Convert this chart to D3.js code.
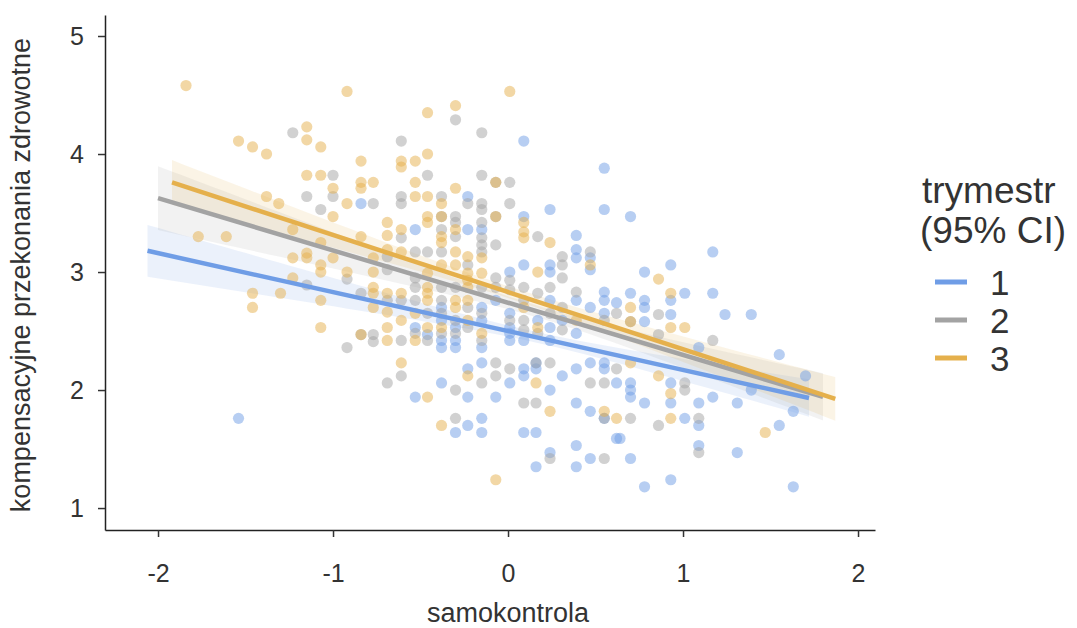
<!DOCTYPE html>
<html>
<head>
<meta charset="utf-8">
<script src="https://cdn.jsdelivr.net/npm/d3@7"></script>
<style>
  body { margin: 0; background: #fff; }
  text { font-family: "Liberation Sans", Arial, Helvetica, sans-serif; fill: #333; }
</style>
</head>
<body>
<svg id="chart" width="1077" height="628"></svg>
<script>
// DATA (samokontrola, kompensacyjne przekonania zdrowotne) per trymestr

const trymestry = ["1", "2", "3"];

const trymestr1 = [
  [-0.84,3.58],[0.09,4.11],[0.55,3.88],[-0.23,3.64],[0.24,3.53],[0.55,3.53],[0.09,3.47],
  [0.70,3.47],[1.17,3.17],[0.93,3.06],[0.78,3.00],[0.93,2.76],[1.01,2.82],[1.17,2.82],[0.70,2.82],
  [0.78,2.76],[0.78,2.70],[0.93,2.64],[1.24,2.64],[1.39,2.64],[0.78,2.58],[1.09,2.36],[1.55,2.30],
  [-1.54,1.76],
  [0.93,2.06],[0.93,1.89],[0.70,2.06],[0.70,2.00],[0.70,1.94],[0.78,1.89],[1.09,1.89],[1.17,1.94],
  [1.31,1.89],[1.39,2.00],[1.70,2.12],[1.63,1.82],[1.55,1.70],[1.01,1.76],[1.09,1.70],[1.09,1.53],
  [1.31,1.47],[0.70,1.42],[0.93,1.24],[0.78,1.18],[1.63,1.18],[0.64,1.59],
  [-0.23,2.18],[-0.15,2.23],[0.01,2.06],[0.09,2.18],[0.09,2.12],[0.16,2.23],[0.16,2.18],[0.31,2.12],
  [0.39,2.18],[0.47,2.23],[0.55,2.23],[0.55,2.18],[0.62,2.06],[-0.38,2.06],[0.24,2.00],[-0.53,1.94],
  [-0.23,1.94],[-0.07,1.94],[0.39,1.89],[0.47,1.82],[0.55,1.76],[0.62,1.59],[-0.15,1.76],[-0.23,1.70],
  [-0.30,1.64],[-0.15,1.64],[0.09,1.64],[0.16,1.64],[0.39,1.53],[0.24,1.47],[0.16,1.35],[0.47,1.42],
  [0.39,1.35],
  [-0.53,3.36],[-0.53,2.53],[-0.46,2.47],[-0.38,2.70],[-0.38,2.59],[-0.38,2.42],[-0.38,2.36],
  [-0.30,2.53],[-0.30,2.42],[-0.30,2.36],[-0.23,3.36],[-0.15,3.36],[-0.15,2.70],[-0.15,2.59],
  [-0.15,2.36],[-0.07,2.76],[0.01,3.00],[0.01,2.65],[0.01,2.53],[0.01,2.48],[0.01,2.42],[0.09,3.06],
  [0.09,2.42],[0.17,2.59],[0.24,3.06],[0.24,3.00],[0.24,2.76],[0.24,2.53],[0.24,2.42],[0.31,2.59],
  [0.39,3.31],[0.39,3.19],[0.39,3.12],[0.39,2.76],[0.39,2.48],[0.47,3.12],[0.47,3.02],[0.47,2.70],
  [0.55,2.83],[0.55,2.76],[0.55,2.65],[0.62,2.74]
];

const trymestr2 = [
  [-1.23,4.18],[-1.00,3.82],[-1.15,3.64],[-1.00,3.64],[-1.07,3.53],[-0.77,3.58],
  [-0.30,4.29],[-0.15,4.18],[-0.61,4.11],[-0.46,3.82],[-0.15,3.82],[-0.07,3.76],[0.01,3.76],
  [-0.61,3.64],[-0.61,3.58],[-0.38,3.64],[-0.23,3.58],[-0.15,3.58],[-0.15,3.53],[0.01,3.58],
  [-0.30,3.47],[-0.38,3.47],[-0.07,3.47],
  [-0.92,2.94],[-1.15,2.89],[-0.84,2.82],[-0.84,2.47],[-0.77,2.47],[-0.77,2.41],[-0.92,2.36],
  [-0.61,2.12],[-0.69,2.06],[-0.07,2.23],[0.01,2.18],[-0.07,2.12],[-0.15,2.06],[0.16,2.23],
  [0.24,2.23],[0.47,2.06],[0.55,2.06],[0.62,2.18],[-0.30,2.00],[0.09,1.89],[0.16,1.89],[0.55,1.76],
  [-0.30,1.76],[0.24,1.42],[0.55,1.42],
  [0.86,2.64],[0.86,2.47],[1.17,2.42],[0.70,2.58],
  [1.01,2.06],[1.01,2.00],[0.70,1.76],[1.09,1.76],[0.86,1.70],[1.09,1.47],
  [-0.69,3.13],[-0.69,3.02],[-0.69,2.76],[-0.61,3.29],[-0.61,2.76],[-0.61,2.42],[-0.53,3.17],
  [-0.53,2.95],[-0.53,2.87],[-0.53,2.76],[-0.53,2.48],[-0.46,3.17],[-0.46,2.65],[-0.46,2.42],
  [-0.38,3.36],[-0.38,3.17],[-0.38,2.87],[-0.38,2.76],[-0.38,2.65],[-0.38,2.48],[-0.30,3.42],
  [-0.30,3.30],[-0.30,2.87],[-0.30,2.59],[-0.30,2.48],[-0.23,3.06],[-0.23,2.70],[-0.23,2.53],
  [-0.15,3.42],[-0.15,3.29],[-0.15,3.23],[-0.15,3.17],[-0.15,2.87],[-0.15,2.65],[-0.15,2.42],
  [-0.07,3.23],[-0.07,2.95],[-0.07,2.87],[0.01,2.93],[0.01,2.85],[0.01,2.59],[0.09,2.87],
  [0.09,2.76],[0.09,2.59],[0.09,2.51],[0.17,3.30],[0.17,2.82],[0.17,2.48],[0.24,2.87],[0.24,2.65],
  [0.31,3.13],[0.31,3.06],[0.31,2.95],[0.31,2.70],[0.31,2.51],[0.39,2.83],[0.47,3.17],[0.55,2.59],
  [0.62,2.65]
];

const trymestr3 = [
  [-1.84,4.58],[-0.92,4.53],[-1.15,4.23],[-1.15,4.12],[-1.07,4.06],[-1.54,4.11],[-1.46,4.06],
  [-1.38,4.00],[-0.84,3.94],[-1.15,3.82],[-1.07,3.82],[-1.00,3.71],[-0.84,3.76],[-0.84,3.71],
  [-0.77,3.76],[-1.38,3.64],[-1.31,3.58],[-0.92,3.58],[-1.00,3.47],
  [-0.46,4.35],[-0.30,4.41],[0.01,4.53],[-0.46,4.00],[-0.61,3.94],[-0.61,3.89],[-0.53,3.94],
  [-0.53,3.76],[-0.30,3.71],[-0.53,3.64],[-0.46,3.64],[-0.38,3.58],[-0.46,3.47],[-0.07,3.76],
  [-0.38,3.47],[-0.07,3.47],
  [-1.77,3.30],[-1.61,3.30],[-1.23,3.36],[-1.07,3.25],[-0.84,3.30],[-1.23,3.12],[-1.15,3.16],
  [-1.15,3.12],[-1.07,3.06],[-1.07,3.00],[-1.00,3.12],[-0.92,3.00],[-0.77,3.12],[-0.77,3.00],
  [-1.23,2.95],[-1.46,2.82],[-1.30,2.82],[-1.46,2.70],[-1.07,2.76],[-0.77,2.87],[-0.77,2.82],
  [-0.77,2.70],[-1.07,2.53],[-0.84,2.47],
  [-0.69,3.42],[-0.69,3.31],[-0.69,3.19],[-0.69,2.82],[-0.69,2.66],[-0.69,2.53],[-0.69,2.42],
  [-0.61,3.36],[-0.61,3.17],[-0.61,2.82],[-0.61,2.59],[-0.53,2.65],[-0.53,2.42],[-0.46,3.42],
  [-0.46,2.99],[-0.46,2.87],[-0.46,2.82],[-0.46,2.76],[-0.46,2.53],[-0.38,3.30],[-0.38,3.25],
  [-0.38,3.06],[-0.38,2.53],[-0.30,3.36],[-0.30,3.17],[-0.30,3.06],[-0.30,2.76],[-0.30,2.70],
  [-0.23,3.13],[-0.23,2.99],[-0.23,2.93],[-0.23,2.87],[-0.23,2.76],[-0.23,2.59],[-0.15,3.12],
  [-0.15,2.99],[-0.15,2.48],[0.17,3.00],[0.24,3.25],[0.09,3.42],[0.09,3.34],[0.09,3.29],
  [0.09,2.70],[0.17,2.53],[0.47,3.06],[0.39,2.59],
  [0.86,2.94],[0.93,2.82],[0.70,2.70],[0.93,2.53],[1.01,2.53],[0.70,2.58],
  [0.86,2.12],[0.93,1.97],[0.93,1.76],[0.70,2.23],[1.47,1.64],
  [-0.61,2.23],[-0.23,2.12],[-0.46,1.94],[0.16,2.06],[0.24,1.82],[0.55,1.82],[0.62,1.76],
  [-0.38,1.70],[-0.07,1.24]
];

// fitted lines and 95% CI shape
const fitIntercept = [2.50, 2.74, 2.83];
const fitSlope = [-0.33, -0.443, -0.484];
const fitFrom = [-2.06, -2.00, -1.92];
const fitTo = [1.72, 1.80, 1.87];
const ciMinHalf = [0.045, 0.05, 0.05];
const ciSpread = [0.097, 0.121, 0.095];
const ciCentre = [0.15, 0.2, 0.0];

const xTicks = [-2, -1, 0, 1, 2];
const yTicks = [1, 2, 3, 4, 5];

// CONSTANTS
const colours = ["#6f9de6", "#a3a3a3", "#e5b04c"];
const groups = [trymestr1, trymestr2, trymestr3];

const svg = d3.select("#chart");

const x = d3.scaleLinear().domain([-2.303, 2.097]).range([105, 875]);
const y = d3.scaleLinear().domain([0.814, 5.178]).range([530, 15]);

// CI bands
const bandG = svg.append("g");
groups.forEach((g, i) => {
  const xs = d3.range(0, 61).map(k => fitFrom[i] + (fitTo[i] - fitFrom[i]) * k / 60);
  const band = xs.map(v => {
    const fit = fitIntercept[i] + fitSlope[i] * v;
    const hw = Math.sqrt(ciMinHalf[i] ** 2 + (ciSpread[i] * (v - ciCentre[i])) ** 2);
    return { x: v, lo: fit - hw, hi: fit + hw };
  });
  bandG.append("path")
    .datum(band)
    .attr("fill", colours[i])
    .attr("fill-opacity", 0.14)
    .attr("d", d3.area().x(d => x(d.x)).y0(d => y(d.lo)).y1(d => y(d.hi)));
});

// points
const pointG = svg.append("g");
groups.forEach((g, i) => {
  pointG.selectAll(".p" + i)
    .data(g)
    .enter().append("circle")
    .attr("class", "p" + i)
    .attr("cx", d => x(d[0]))
    .attr("cy", d => y(d[1]))
    .attr("r", 5.6)
    .attr("fill", colours[i])
    .attr("fill-opacity", 0.5);
});

// regression lines
const lineG = svg.append("g");
groups.forEach((g, i) => {
  const ends = [fitFrom[i], fitTo[i]];
  lineG.append("path")
    .datum(ends)
    .attr("fill", "none")
    .attr("stroke", colours[i])
    .attr("stroke-width", 4.5)
    .attr("d", d3.line().x(d => x(d)).y(d => y(fitIntercept[i] + fitSlope[i] * d)));
});

// axes
const xAxisG = svg.append("g")
  .attr("transform", "translate(0,530)")
  .call(d3.axisBottom(x).tickValues(xTicks).tickFormat(d => String(d))
    .tickSize(7).tickSizeOuter(0).tickPadding(27));
const yAxisG = svg.append("g")
  .attr("transform", "translate(105,0)")
  .call(d3.axisLeft(y).tickValues(yTicks).tickFormat(d => String(d))
    .tickSize(7).tickSizeOuter(0).tickPadding(14));

[xAxisG, yAxisG].forEach(a => {
  a.select(".domain").attr("stroke", "#222").attr("stroke-width", 1.5);
  a.selectAll(".tick line").attr("stroke", "#333").attr("stroke-width", 1.5);
  a.selectAll(".tick text").attr("font-size", 25).attr("fill", "#444")
    .style("font-family", '"Liberation Sans", Arial, sans-serif');
});

svg.append("text")
  .attr("x", 508).attr("y", 622)
  .attr("text-anchor", "middle")
  .attr("font-size", 27)
  .text("samokontrola");

svg.append("text")
  .attr("transform", "translate(30,275) rotate(-90)")
  .attr("text-anchor", "middle")
  .attr("font-size", 27)
  .text("kompensacyjne przekonania zdrowotne");

// legend
const legend = svg.append("g");
legend.append("text").attr("x", 922).attr("y", 203).attr("font-size", 37).text("trymestr");
legend.append("text").attr("x", 920).attr("y", 243).attr("font-size", 37).text("(95% CI)");

const legendY = d3.scalePoint().domain(trymestry).range([282, 358]);
trymestry.forEach((t, i) => {
  legend.append("line")
    .attr("x1", 935).attr("x2", 967)
    .attr("y1", legendY(t)).attr("y2", legendY(t))
    .attr("stroke", colours[i]).attr("stroke-width", 5);
  legend.append("text")
    .attr("x", 990).attr("y", legendY(t))
    .attr("dy", "0.36em")
    .attr("font-size", 35)
    .text(t);
});
</script>
</body>
</html>
